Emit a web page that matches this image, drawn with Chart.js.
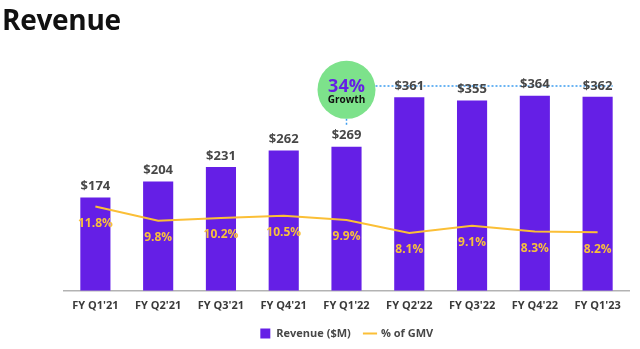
<!DOCTYPE html>
<html lang="en">
<head>
  <meta charset="UTF-8">
  <title>Revenue</title>
  <script src="https://cdn.jsdelivr.net/npm/chart.js"></script>
</head>
<style>
  body { margin: 0; background: #fff; }
  .wrap { position: relative; width: 640px; height: 349px; }
  #title {
    position: absolute; left: 2px; top: 0px;
    font-family: 'Open Sans', sans-serif; font-weight: 700; font-size: 28px;
    color: #111; letter-spacing: -0.3px;
  }
</style>
<body>
  <div class="wrap">
    <div id="title">Revenue</div>
    <canvas id="chartCanvas" width="640" height="349"></canvas>
  </div>

  <script>
    const categories = ["FY Q1'21", "FY Q2'21", "FY Q3'21", "FY Q4'21", "FY Q1'22", "FY Q2'22", "FY Q3'22", "FY Q4'22", "FY Q1'23"];
    const revenue = [174, 204, 231, 262, 269, 361, 355, 364, 362];
    const gmvPct = [11.8, 9.8, 10.2, 10.5, 9.9, 8.1, 9.1, 8.3, 8.2];
    const growthText = ['34%', 'Growth'];

    // annotation anchors (in revenue units / category index)
    const growthIndex = 4;
    const growthCenter = 375;
    const growthLine = 382;

    const purple = '#651fe6';
    const gold = '#fbbf36';
    const font = "'Open Sans', sans-serif";

    const labelPlugin = {
      id: 'valueLabels',
      afterDatasetsDraw(chart) {
        const ctx = chart.ctx;
        const xs = chart.scales.x, ys = chart.scales.y;
        const bars = chart.getDatasetMeta(0).data;
        const pts = chart.getDatasetMeta(1).data;
        ctx.save();

        // growth bubble + dotted guides
        const cx = xs.getPixelForValue(growthIndex);
        const cy = ys.getPixelForValue(growthCenter);
        const r = 29;
        const ly = ys.getPixelForValue(growthLine);
        const last = bars[bars.length - 1];
        ctx.strokeStyle = '#3b9cf0';
        ctx.lineWidth = 1.5;
        ctx.setLineDash([2, 2]);
        ctx.beginPath();
        ctx.moveTo(cx + r, ly);
        ctx.lineTo(last.x + last.width / 2, ly);
        ctx.moveTo(cx, cy + r);
        ctx.lineTo(cx, bars[growthIndex].y - 20);
        ctx.stroke();
        ctx.setLineDash([]);

        ctx.fillStyle = '#7de28b';
        ctx.beginPath();
        ctx.arc(cx, cy, r, 0, Math.PI * 2);
        ctx.fill();
        ctx.textAlign = 'center';
        ctx.textBaseline = 'middle';
        ctx.fillStyle = purple;
        ctx.font = "700 18px " + font;
        ctx.fillText(growthText[0], cx, cy - 3);
        ctx.fillStyle = '#111';
        ctx.font = "700 10px " + font;
        ctx.fillText(growthText[1], cx, cy + 10);

        // revenue labels
        ctx.fillStyle = '#474747';
        ctx.font = "700 13px " + font;
        bars.forEach((b, i) => {
          ctx.fillText('$' + revenue[i], b.x, b.y - 11);
        });

        // % of GMV labels
        ctx.fillStyle = '#f8c03c';
        ctx.font = "700 12px " + font;
        pts.forEach((p, i) => {
          ctx.fillText(gmvPct[i].toFixed(1) + '%', p.x, p.y + 17);
        });
        ctx.restore();
      }
    };

    const ctx = document.getElementById('chartCanvas').getContext('2d');
    const chart = new Chart(ctx, {
      type: 'bar',
      data: {
        labels: categories,
        datasets: [{
          label: 'Revenue ($M)  ',
          data: revenue,
          backgroundColor: purple,
          borderWidth: 0,
          barPercentage: 0.6,
          categoryPercentage: 0.8,
          pointStyle: 'rect',
          yAxisID: 'y',
          order: 2
        }, {
          type: 'line',
          label: '% of GMV',
          data: gmvPct,
          borderColor: gold,
          backgroundColor: gold,
          borderWidth: 2,
          pointRadius: 0,
          pointStyle: 'line',
          tension: 0,
          yAxisID: 'y2',
          order: 1
        }]
      },
      options: {
        responsive: false,
        animation: false,
        layout: {
          padding: { top: 40, left: 64, right: 11, bottom: 0 }
        },
        plugins: {
          tooltip: { enabled: false },
          legend: {
            position: 'bottom',
            labels: {
              usePointStyle: true,
              boxHeight: 10,
              padding: 8,
              color: '#474747',
              font: { family: font, weight: '700', size: 11 },
              sort: (a, b) => a.datasetIndex - b.datasetIndex
            }
          }
        },
        scales: {
          x: {
            grid: { display: false, drawTicks: false },
            border: { color: '#b3b3b3', width: 1.5 },
            ticks: {
              color: '#3a3a3a',
              padding: 8,
              font: { family: font, weight: '700', size: 11 }
            }
          },
          y: {
            display: false,
            min: 0,
            max: 468
          },
          y2: {
            display: false,
            min: 0,
            max: 35.1
          }
        }
      },
      plugins: [labelPlugin]
    });
  </script>
</body>
</html>
